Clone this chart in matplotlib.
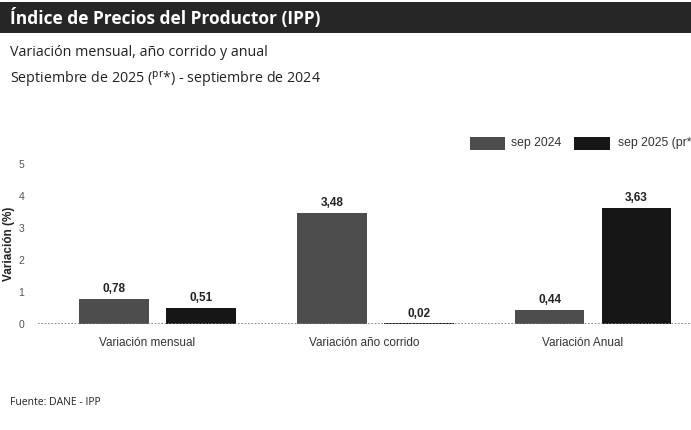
import matplotlib.pyplot as plt
from matplotlib.patches import Rectangle
import numpy as np

# data
categories = ["Variación mensual", "Variación año corrido", "Variación Anual"]
sep_2024 = [0.78, 3.48, 0.44]
sep_2025 = [0.51, 0.02, 3.63]
value_labels_2024 = ["0,78", "3,48", "0,44"]
value_labels_2025 = ["0,51", "0,02", "3,63"]
series_names = ["sep 2024", "sep 2025 (pr*)"]

COL_2024 = "#4d4d4d"
COL_2025 = "#161616"

fig = plt.figure(figsize=(6.91, 4.30), dpi=100)

# dark header bar
fig.patches.append(Rectangle((0, 0.923), 1, 0.072, transform=fig.transFigure,
                             facecolor="#262626", edgecolor="none", zorder=0))
fig.text(0.015, 0.958, "Índice de Precios del Productor (IPP)", color="white",
         fontsize=12.5, fontweight="bold", family="Open Sans", va="center")
fig.text(0.015, 0.878, "Variación mensual, año corrido y anual", color="#222222",
         fontsize=10.3, family="Open Sans", va="center")
fig.text(0.015, 0.816, r"Septiembre de 2025 ($^{\mathrm{pr}}$*) - septiembre de 2024",
         color="#222222", fontsize=10.3, family="Open Sans", va="center")
fig.text(0.015, 0.063, "Fuente: DANE - IPP", color="#222222",
         fontsize=7.5, family="Open Sans", va="center")

ax = fig.add_axes([0.055, 0.2465, 0.945, 0.372])
x = np.arange(len(categories))
w = 0.32
off = 0.2
ax.bar(x - off, sep_2024, w, color=COL_2024, label=series_names[0], zorder=2)
ax.bar(x + off, sep_2025, w, color=COL_2025, label=series_names[1], zorder=2)

for xi, v, s in zip(x - off, sep_2024, value_labels_2024):
    ax.text(xi, v + 0.12, s, ha="center", va="bottom", fontsize=8.5,
            family="Liberation Sans", fontweight="bold", color="#222222")
for xi, v, s in zip(x + off, sep_2025, value_labels_2025):
    ax.text(xi, v + 0.12, s, ha="center", va="bottom", fontsize=8.5,
            family="Liberation Sans", fontweight="bold", color="#222222")

ax.axhline(0, color="#777777", linestyle=(0, (1, 1)), linewidth=1.2, zorder=3)
ax.set_xlim(-0.55, 2.45)
ax.set_ylim(0, 5)
ax.set_yticks(range(6))
ax.set_xticks(x - 0.05)
ax.set_xticklabels(categories, fontsize=8.5, family="Liberation Sans", color="#333333")
ax.tick_params(axis="x", length=0, pad=9)
ax.tick_params(axis="y", length=0, pad=10, labelsize=7.5, labelcolor="#555555")
for lbl in ax.get_yticklabels():
    lbl.set_family("Liberation Sans")
for s in ax.spines.values():
    s.set_visible(False)
ax.set_ylabel("Variación (%)", fontsize=8.5, fontweight="bold", family="Liberation Sans",
              color="#222222", labelpad=2)

# legend drawn manually so it can run off the right edge like the original
fig.patches.append(Rectangle((0.680, 0.651), 0.051, 0.030, transform=fig.transFigure,
                             facecolor=COL_2024, edgecolor="none"))
fig.text(0.739, 0.667, series_names[0], fontsize=8.8, family="Liberation Sans",
         color="#333333", va="center")
fig.patches.append(Rectangle((0.831, 0.651), 0.052, 0.030, transform=fig.transFigure,
                             facecolor=COL_2025, edgecolor="none"))
fig.text(0.894, 0.667, series_names[1], fontsize=8.8, family="Liberation Sans",
         color="#333333", va="center")

plt.savefig("out.png", dpi=100)
